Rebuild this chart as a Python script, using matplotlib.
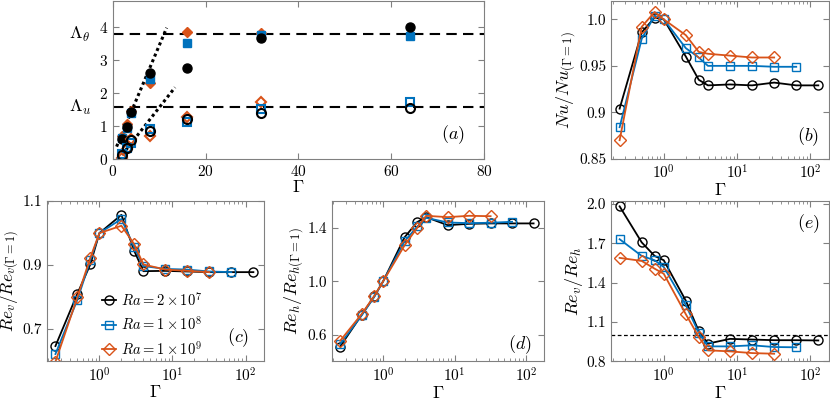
import matplotlib
matplotlib.use("Agg")
import matplotlib.pyplot as plt
from matplotlib.ticker import LogLocator, NullFormatter

plt.rcParams['font.family'] = 'serif'
plt.rcParams['font.serif'] = ['cmr10', 'DejaVu Serif']
plt.rcParams['mathtext.fontset'] = 'cm'
plt.rcParams['axes.formatter.use_mathtext'] = True
plt.rcParams['font.size'] = 10

black = '#000000'
blue = '#0072BD'
orange = '#D95319'
spine_gray = '#808080'

# aspect ratios
gam = [0.25, 0.5, 0.75, 1, 2, 3, 4, 8, 16, 32, 64, 128]
gam_a = [2, 3, 4, 8, 16, 32, 64]

# panel (a): filled = Lambda_theta, open = Lambda_u
lt_2e7 = [0.60, 0.97, 1.42, 2.60, 2.76, 3.66, 3.99]
lt_1e8 = [0.62, 0.95, 1.40, 2.41, 3.52, 3.75, 3.74]
lt_1e9 = [0.70, 1.05, 1.45, 2.29, 3.86, 3.81]
lu_2e7 = [0.12, 0.34, 0.57, 0.83, 1.22, 1.38, 1.54]
lu_1e8 = [0.15, 0.33, 0.47, 0.90, 1.13, 1.50, 1.74]
lu_1e9 = [0.03, 0.30, 0.60, 0.70, 1.28, 1.72]
lam_theta = 3.79
lam_u = 1.57
fit_t_x = [0.8, 11.6]
fit_t_y = [0.37, 3.98]
fit_u_x = [1.15, 13.4]
fit_u_y = [-0.03, 2.17]

# panel (b): Nu / Nu(Gamma=1)
nu_2e7 = [0.904, 0.986, 1.002, 1.0, 0.960, 0.935, 0.929, 0.930, 0.929, 0.932, 0.929, 0.929]
nu_1e8 = [0.884, 0.979, 1.004, 1.0, 0.969, 0.959, 0.950, 0.950, 0.950, 0.949, 0.949]
nu_1e9 = [0.870, 0.992, 1.008, 1.0, 0.983, 0.965, 0.963, 0.961, 0.959, 0.959]

# panel (c): Re_v / Re_v(Gamma=1)
rev_2e7 = [0.647, 0.811, 0.902, 1.0, 1.057, 0.944, 0.881, 0.882, 0.880, 0.878, 0.878, 0.878]
rev_1e8 = [0.622, 0.792, 0.915, 1.0, 1.044, 0.955, 0.897, 0.888, 0.886, 0.880, 0.878]
rev_1e9 = [0.598, 0.800, 0.923, 1.0, 1.023, 0.965, 0.902, 0.886, 0.882, 0.878]

# panel (d): Re_h / Re_h(Gamma=1)
reh_2e7 = [0.512, 0.749, 0.887, 1.0, 1.33, 1.443, 1.48, 1.42, 1.43, 1.433, 1.433, 1.433]
reh_1e8 = [0.530, 0.745, 0.883, 1.0, 1.30, 1.41, 1.475, 1.44, 1.435, 1.438, 1.445]
reh_1e9 = [0.555, 0.755, 0.890, 1.0, 1.27, 1.40, 1.49, 1.48, 1.49, 1.487]

# panel (e): Re_v / Re_h
ratio_2e7 = [1.98, 1.706, 1.603, 1.57, 1.262, 1.031, 0.936, 0.972, 0.967, 0.962, 0.962, 0.960]
ratio_1e8 = [1.73, 1.603, 1.57, 1.519, 1.229, 1.018, 0.915, 0.915, 0.923, 0.910, 0.908]
ratio_1e9 = [1.588, 1.565, 1.506, 1.467, 1.159, 0.987, 0.885, 0.877, 0.864, 0.859]

labels = [r'$Ra = 2\times10^7$', r'$Ra = 1\times10^8$', r'$Ra = 1\times10^9$']


def style(ax):
    for s in ax.spines.values():
        s.set_color(spine_gray)
        s.set_linewidth(0.8)
    ax.tick_params(which='both', direction='in', top=True, right=True,
                   color=spine_gray, labelsize=11)
    ax.tick_params(which='major', length=4)
    ax.tick_params(which='minor', length=2)


def log_panel(ax, y1, y2, y3):
    ax.plot(gam[:len(y1)], y1, '-o', color=black, mfc='none', ms=6.5, lw=1.3, mew=1.0)
    ax.plot(gam[:len(y2)], y2, '-s', color=blue, mfc='none', ms=6, lw=1.3, mew=1.0)
    ax.plot(gam[:len(y3)], y3, '-D', color=orange, mfc='none', ms=6, lw=1.3, mew=1.0)
    ax.set_xscale('log')
    ax.set_xlim(0.19, 180)
    ax.xaxis.set_major_locator(LogLocator(base=10, numticks=10))
    ax.xaxis.set_minor_locator(LogLocator(base=10, subs=range(2, 10), numticks=20))
    ax.xaxis.set_minor_formatter(NullFormatter())
    ax.set_xlabel(r'$\Gamma$', fontsize=13, labelpad=0)
    style(ax)


fig = plt.figure(figsize=(8.3, 3.99), dpi=100)

# (a)
ax = fig.add_axes([0.136, 0.602, 0.447, 0.396])
ax.axhline(lam_theta, color=black, lw=1.5, ls=(0, (5, 3)))
ax.axhline(lam_u, color=black, lw=1.5, ls=(0, (5, 3)))
ax.plot(fit_t_x, fit_t_y, color=black, lw=2.2, ls=(0, (1, 1)))
ax.plot(fit_u_x, fit_u_y, color=black, lw=2.2, ls=(0, (1, 1)))
ax.plot(gam_a[:len(lt_1e9)], lt_1e9, 'D', color=orange, ms=5.5)
ax.plot(gam_a, lt_1e8, 's', color=blue, ms=5.5)
ax.plot(gam_a, lt_2e7, 'o', color=black, ms=6.5)
ax.plot(gam_a[:len(lu_1e9)], lu_1e9, 'D', color=orange, mfc='none', ms=5.5, mew=1.5)
ax.plot(gam_a, lu_1e8, 's', color=blue, mfc='none', ms=5.5, mew=1.5)
ax.plot(gam_a, lu_2e7, 'o', color=black, mfc='none', ms=6.5, mew=1.5)
ax.set_xlim(0, 80)
ax.set_ylim(0, 4.8)
ax.set_xticks([0, 20, 40, 60, 80])
ax.set_yticks([0, 1, 2, 3, 4])
ax.set_xlabel(r'$\Gamma$', fontsize=13, labelpad=0)
ax.text(-0.089, lam_theta, r'$\Lambda_\theta$', transform=ax.get_yaxis_transform(),
        ha='center', va='center', fontsize=13)
ax.text(-0.089, lam_u, r'$\Lambda_u$', transform=ax.get_yaxis_transform(),
        ha='center', va='center', fontsize=13)
ax.text(0.916, 0.15, r'$(a)$', transform=ax.transAxes, ha='center', va='center', fontsize=13)
style(ax)

# (b)
ax = fig.add_axes([0.736, 0.602, 0.263, 0.396])
log_panel(ax, nu_2e7, nu_1e8, nu_1e9)
ax.set_ylim(0.85, 1.02)
ax.set_yticks([0.85, 0.9, 0.95, 1.0])
ax.set_yticklabels(['0.85', '0.9', '0.95', '1.0'])
ax.set_ylabel(r'$Nu/Nu_{(\Gamma=1)}$', fontsize=13, labelpad=1)
ax.text(0.904, 0.14, r'$(b)$', transform=ax.transAxes, ha='center', va='center', fontsize=13)

# (c)
ax = fig.add_axes([0.0563, 0.095, 0.262, 0.401])
log_panel(ax, rev_2e7, rev_1e8, rev_1e9)
ax.set_ylim(0.6, 1.1)
ax.set_yticks([0.7, 0.9, 1.1])
ax.set_yticklabels(['0.7', '0.9', '1.1'])
ax.set_ylabel(r'$Re_v/Re_{v(\Gamma=1)}$', fontsize=12.5, labelpad=0)
ax.text(0.88, 0.145, r'$(c)$', transform=ax.transAxes, ha='center', va='center', fontsize=13)
ax.legend(labels, loc='upper left', bbox_to_anchor=(0.255, 0.44), frameon=False,
          fontsize=10.5, handlelength=0.95, handletextpad=0.35, labelspacing=0.45,
          borderpad=0, borderaxespad=0)

# (d)
ax = fig.add_axes([0.3996, 0.094, 0.256, 0.402])
log_panel(ax, reh_2e7, reh_1e8, reh_1e9)
ax.set_ylim(0.4, 1.6)
ax.set_yticks([0.6, 1.0, 1.4])
ax.set_yticklabels(['0.6', '1.0', '1.4'])
ax.set_ylabel(r'$Re_h/Re_{h(\Gamma=1)}$', fontsize=13, labelpad=1)
ax.text(0.887, 0.108, r'$(d)$', transform=ax.transAxes, ha='center', va='center', fontsize=13)

# (e)
ax = fig.add_axes([0.736, 0.094, 0.263, 0.402])
ax.axhline(1.0, color=black, lw=0.9, ls=(0, (3, 2)))
log_panel(ax, ratio_2e7, ratio_1e8, ratio_1e9)
ax.set_ylim(0.8, 2.02)
ax.set_yticks([0.8, 1.1, 1.4, 1.7, 2.0])
ax.set_yticklabels(['0.8', '1.1', '1.4', '1.7', '2.0'])
ax.set_ylabel(r'$Re_v/Re_h$', fontsize=13, labelpad=1)
ax.text(0.904, 0.86, r'$(e)$', transform=ax.transAxes, ha='center', va='center', fontsize=13)

fig.savefig('out.png', dpi=100)
